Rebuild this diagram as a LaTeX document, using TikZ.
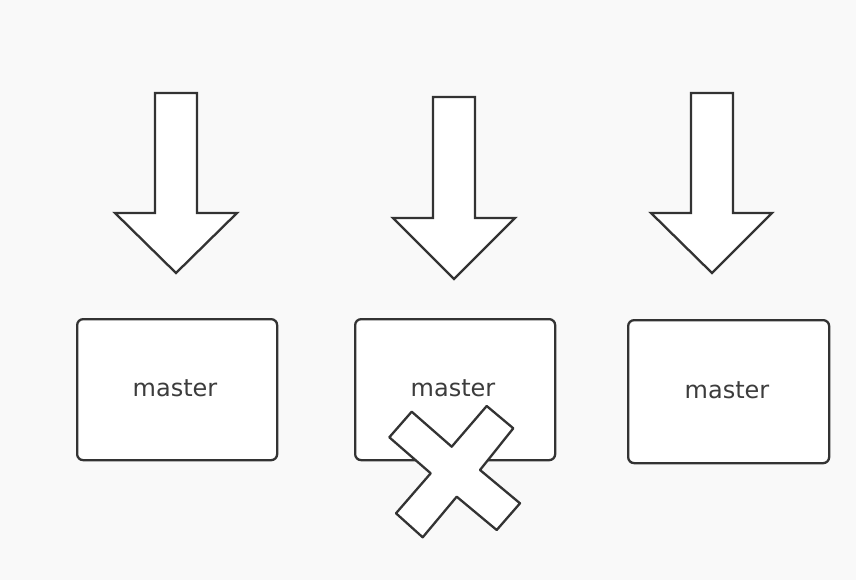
\documentclass[tikz,border=0pt]{standalone}
\usepackage{fontspec}
\setmainfont{DejaVu Sans}
\definecolor{bg}{HTML}{F9F9F9}
\definecolor{ink}{HTML}{333333}
\definecolor{txt}{HTML}{3C3C3C}
\begin{document}
\begin{tikzpicture}[x=1pt,y=-1pt,
  outl/.style={draw=ink,fill=white,line width=2.3pt,line join=miter},
  boxstyle/.style={draw=ink,fill=white,line width=2.3pt,rounded corners=6pt,
    minimum width=200pt,minimum height=141pt,inner sep=0pt,anchor=north west},
  lbl/.style={text=txt,font=\fontsize{24}{28}\selectfont}]
\useasboundingbox[fill=bg] (0,0) rectangle (856,580);
% arrows
\draw[outl] (155,93) -- (197,93) -- (197,213) -- (237,213) -- (176,273) -- (115,213) -- (155,213) -- cycle;
\draw[outl] (433,97) -- (475,97) -- (475,218) -- (515,218) -- (454,279) -- (393,218) -- (433,218) -- cycle;
\draw[outl] (691,93) -- (733,93) -- (733,213) -- (772,213) -- (712,273) -- (651,213) -- (691,213) -- cycle;
% boxes
\node[boxstyle] (m1) at (76,318) {};
\node[lbl] (t1) at (175,388) {master};
\node[boxstyle] (m2) at (354,318) {};
\node[lbl] (t2) at (453,388) {master};
\node[boxstyle,minimum width=201pt,minimum height=143pt] (m3) at (627,319) {};
\node[lbl] (t3) at (727,390) {master};
% cross
\draw[outl,line join=round] (411.7,411.7) -- (451.7,446.7) -- (486.7,406) -- (513.3,428.3) -- (480,470) -- (520,503.3) -- (496.7,530) -- (456.7,496.7) -- (422.7,537.3) -- (396,513.3) -- (430.7,473.3) -- (389.3,437.3) -- cycle;
\end{tikzpicture}
\end{document}
